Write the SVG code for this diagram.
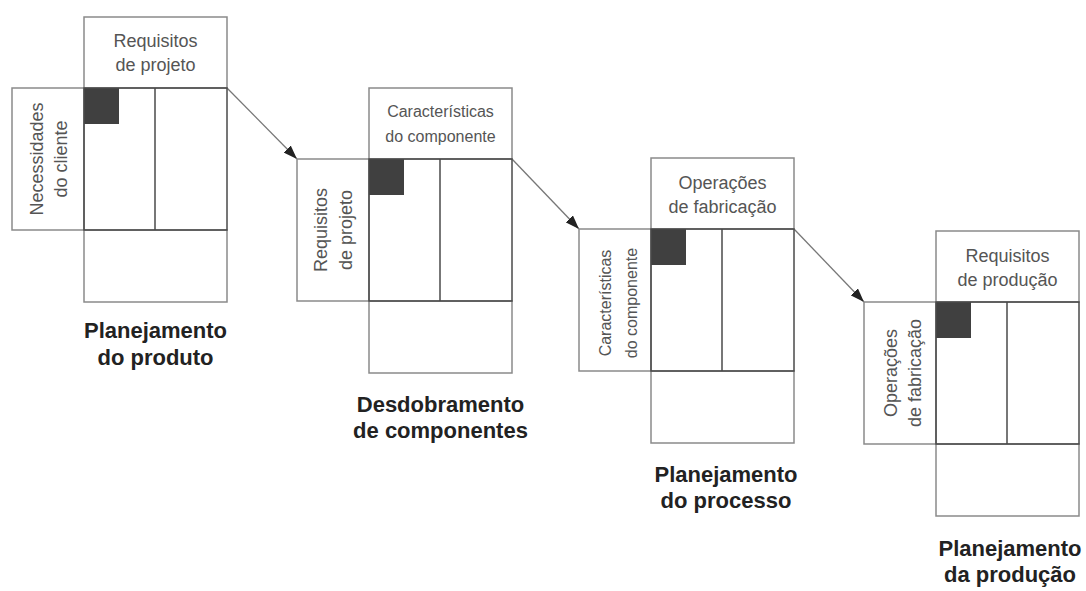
<svg xmlns="http://www.w3.org/2000/svg" width="1086" height="591" viewBox="0 0 1086 591">
  <style>
    .box { fill: none; stroke: #8a8a8a; stroke-width: 1.5; }
    .inner { fill: none; stroke: #4a4a4a; stroke-width: 1.5; }
    .dark { fill: #404040; stroke: none; }
    .lbl { font-family: "Liberation Sans", Arial, sans-serif; font-size: 18px; fill: #555; text-anchor: middle; }
    .lbl.sm { font-size: 16px; }
    .ttl { font-family: "Liberation Sans", Arial, sans-serif; font-size: 22px; font-weight: bold; fill: #222; text-anchor: middle; }
    .conn { stroke: #777; stroke-width: 1.3; fill: none; marker-end: url(#ah); }
  </style>
  <defs>
    <marker id="ah" viewBox="0 0 14 10" refX="14" refY="5" markerWidth="14" markerHeight="10" markerUnits="userSpaceOnUse" orient="auto">
      <path d="M0,0 L14,5 L0,10 Z" fill="#222"/>
    </marker>
    <g id="matrix">
      <rect class="box" x="0" y="-71" width="143" height="71"/>
      <rect class="box" x="-72" y="0" width="72" height="142"/>
      <rect class="box" x="0" y="142" width="143" height="72"/>
      <rect class="dark" x="0" y="0" width="35" height="36"/>
      <rect class="inner" x="0" y="0" width="143" height="142"/>
      <line class="inner" x1="71" y1="0" x2="71" y2="142"/>
    </g>
  </defs>
  <rect width="1086" height="591" fill="#fff"/>

  <g id="connectors">
    <line class="conn" x1="227" y1="88" x2="297" y2="159"/>
    <line class="conn" x1="512" y1="159" x2="579" y2="229"/>
    <line class="conn" x1="794" y1="229" x2="864" y2="302"/>
  </g>

  <g id="m1" transform="translate(84,88)">
    <use href="#matrix"/>
    <text class="lbl" x="71.5" y="-41">Requisitos</text>
    <text class="lbl" x="71.5" y="-17">de projeto</text>
    <text class="lbl" transform="translate(-41,71) rotate(-90)">Necessidades</text>
    <text class="lbl" transform="translate(-17,71) rotate(-90)">do cliente</text>
    <text class="ttl" x="71.5" y="250">Planejamento</text>
    <text class="ttl" x="71.5" y="277">do produto</text>
  </g>

  <g id="m2" transform="translate(369,159)">
    <use href="#matrix"/>
    <text class="lbl sm" x="71.5" y="-42">Características</text>
    <text class="lbl sm" x="71.5" y="-17">do componente</text>
    <text class="lbl" transform="translate(-42,71) rotate(-90)">Requisitos</text>
    <text class="lbl" transform="translate(-17,71) rotate(-90)">de projeto</text>
    <text class="ttl" x="71.5" y="253">Desdobramento</text>
    <text class="ttl" x="71.5" y="279">de componentes</text>
  </g>

  <g id="m3" transform="translate(651,229)">
    <use href="#matrix"/>
    <text class="lbl" x="71.5" y="-40">Operações</text>
    <text class="lbl" x="71.5" y="-16">de fabricação</text>
    <text class="lbl sm" transform="translate(-40,74) rotate(-90)">Características</text>
    <text class="lbl sm" transform="translate(-14,74) rotate(-90)">do componente</text>
    <text class="ttl" x="75" y="253">Planejamento</text>
    <text class="ttl" x="75" y="279">do processo</text>
  </g>

  <g id="m4" transform="translate(936,302)">
    <use href="#matrix"/>
    <text class="lbl" x="71.5" y="-40">Requisitos</text>
    <text class="lbl" x="71.5" y="-16">de produção</text>
    <text class="lbl" transform="translate(-39,71) rotate(-90)">Operações</text>
    <text class="lbl" transform="translate(-15,71) rotate(-90)">de fabricação</text>
    <text class="ttl" x="74" y="254">Planejamento</text>
    <text class="ttl" x="74" y="280">da produção</text>
  </g>
</svg>
